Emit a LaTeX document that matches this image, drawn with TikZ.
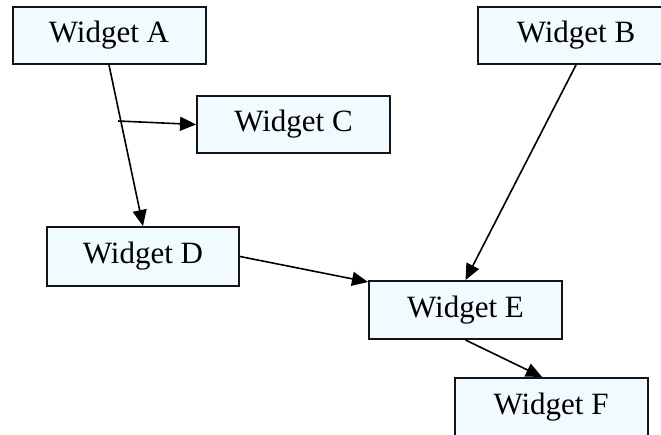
\documentclass[tikz,border=0pt]{standalone}
\usepackage{fontspec}
\setmainfont{Liberation Serif}
\usetikzlibrary{arrows.meta}
\definecolor{boxfill}{RGB}{240,250,255}
\definecolor{boxline}{RGB}{20,20,20}
\tikzset{
  widget/.style={draw=boxline, line width=2pt, fill=boxfill, rectangle, inner sep=0pt,
    minimum width=193pt, minimum height=58pt, font=\fontsize{31}{36}\selectfont},
  conn/.style={draw=black, line width=1.6pt, -{Triangle[length=16pt,width=14pt]}}
}
\begin{document}
\begin{tikzpicture}[x=1pt,y=-1pt]
\useasboundingbox (0,0) rectangle (661,435);
\fill[white] (0,0) rectangle (661,435);
\clip (0,0) rectangle (661,435);
\node[widget, minimum height=57pt] (A) at (109,35.5) {Widget A};
\node[widget, minimum width=196pt, minimum height=57pt] (B) at (576,35.5) {Widget B};
\node[widget, minimum height=57pt] (C) at (293.5,124.5) {Widget C};
\node[widget, minimum width=192pt, minimum height=59pt] (D) at (143,256.5) {Widget D};
\node[widget] (E) at (465.5,310) {Widget E};
\node[widget, minimum height=59pt] (F) at (551,407.5) {Widget F};
\coordinate (br) at (118,121);
\draw[conn] (A.south) -- (D.north);
\draw[conn] (br) -- (C.west);
\draw[conn] (B.south) -- (E.north);
\draw[conn] (D.east) -- ([yshift=-2pt]E.north west);
\draw[conn] (E.south) -- ([xshift=-9pt]F.north);
\end{tikzpicture}
\end{document}
